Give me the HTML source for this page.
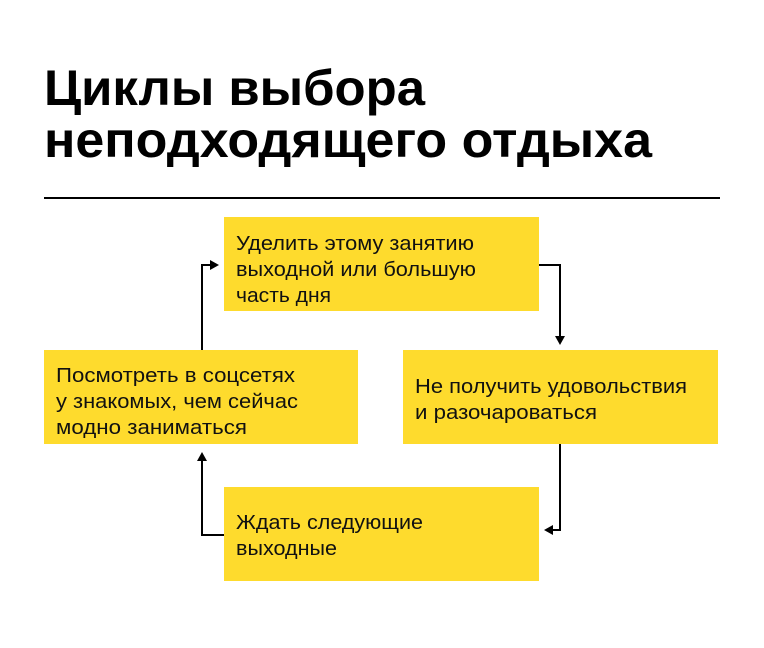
<!DOCTYPE html>
<html><head><meta charset="utf-8"><style>
html,body{margin:0;padding:0;background:#fff;}
svg{display:block}
text{font-family:"Liberation Sans",sans-serif;}
.t{font-size:20.5px;fill:#111;}
.h{font-size:50px;font-weight:bold;fill:#000;}
</style></head><body>
<svg width="764" height="648" viewBox="0 0 764 648" xmlns="http://www.w3.org/2000/svg">
<rect width="764" height="648" fill="#fff"/>
<text class="h" x="44" y="105" textLength="381" lengthAdjust="spacingAndGlyphs">Циклы выбора</text>
<text class="h" x="44" y="157" textLength="608" lengthAdjust="spacingAndGlyphs">неподходящего отдыха</text>
<rect x="44" y="197" width="676" height="2" fill="#000"/>
<g fill="#FEDB2D">
<rect x="224" y="217" width="315" height="94"/>
<rect x="44" y="350" width="314" height="94"/>
<rect x="403" y="350" width="315" height="94"/>
<rect x="224" y="487" width="315" height="94"/>
</g>
<g class="t">
<text x="236" y="250" textLength="238" lengthAdjust="spacingAndGlyphs">Уделить этому занятию</text>
<text x="236" y="276" textLength="240" lengthAdjust="spacingAndGlyphs">выходной или большую</text>
<text x="236" y="302" textLength="95" lengthAdjust="spacingAndGlyphs">часть дня</text>
<text x="56" y="382" textLength="239" lengthAdjust="spacingAndGlyphs">Посмотреть в соцсетях</text>
<text x="56" y="408" textLength="242" lengthAdjust="spacingAndGlyphs">у знакомых, чем сейчас</text>
<text x="56" y="434" textLength="191" lengthAdjust="spacingAndGlyphs">модно заниматься</text>
<text x="415" y="393" textLength="272" lengthAdjust="spacingAndGlyphs">Не получить удовольствия</text>
<text x="415" y="419" textLength="182" lengthAdjust="spacingAndGlyphs">и разочароваться</text>
<text x="236" y="529" textLength="187" lengthAdjust="spacingAndGlyphs">Ждать следующие</text>
<text x="236" y="555" textLength="101" lengthAdjust="spacingAndGlyphs">выходные</text>
</g>
<g fill="none" stroke="#000" stroke-width="2">
<polyline points="539,265 560,265 560,337"/>
<polyline points="560,444 560,530 552,530"/>
<polyline points="224,535 202,535 202,460"/>
<polyline points="202,350 202,265 211,265"/>
</g>
<g fill="#000">
<polygon points="555,336 565,336 560,345"/>
<polygon points="553,525 553,535 544,530"/>
<polygon points="197,461 207,461 202,452"/>
<polygon points="210,260 210,270 219,265"/>
</g>
</svg>
</body></html>
